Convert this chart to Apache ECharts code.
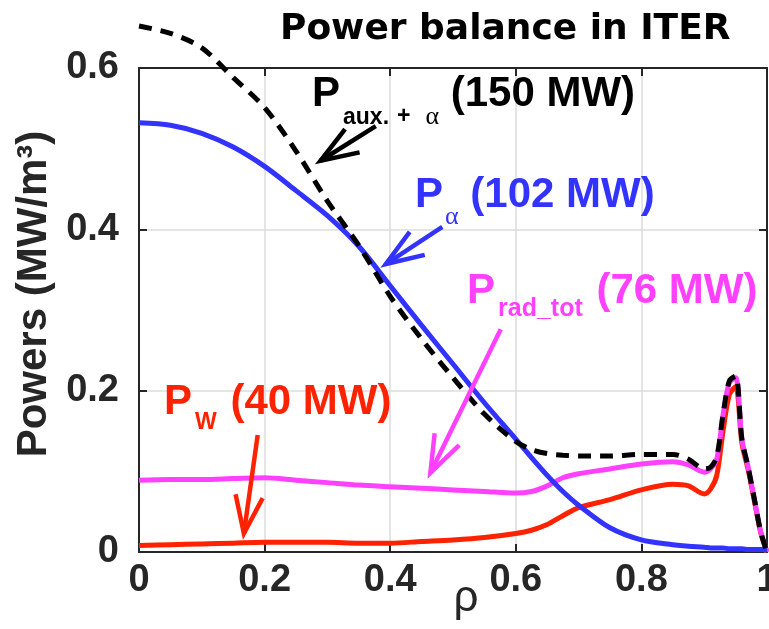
<!DOCTYPE html>
<html>
<head>
<meta charset="utf-8">
<script src="https://cdn.jsdelivr.net/npm/echarts@6/dist/echarts.min.js"></script>
<style>
html, body { margin: 0; padding: 0; background: #fff; }
#main { width: 769px; height: 629px; }
</style>
</head>
<body>
<div id="main"></div>
<script>
// radial coordinate shared by all profiles
const rho = [0, 0.05, 0.1, 0.15, 0.2, 0.25, 0.3, 0.35, 0.4, 0.45, 0.5, 0.55, 0.6, 0.625, 0.65, 0.675, 0.7,
    0.75, 0.8, 0.85, 0.875, 0.9, 0.91, 0.92, 0.93, 0.94, 0.95, 0.96, 0.97, 0.98, 0.99, 1.0];

// power densities (MW/m3)
const pAuxAlpha = [0.652, 0.643, 0.625, 0.588, 0.551, 0.497, 0.435, 0.380, 0.317, 0.264, 0.216, 0.171, 0.137,
    0.127, 0.122, 0.120, 0.119, 0.119, 0.121, 0.121, 0.115, 0.103, 0.105, 0.118, 0.170, 0.212, 0.218,
    0.140, 0.105, 0.065, 0.025, 0.0];
const pAlpha = [0.532, 0.529, 0.519, 0.502, 0.478, 0.448, 0.417, 0.379, 0.330, 0.281, 0.233, 0.185, 0.140,
    0.117, 0.095, 0.075, 0.058, 0.030, 0.015, 0.009, 0.007, 0.006, 0.005, 0.005, 0.005, 0.004, 0.004,
    0.004, 0.003, 0.003, 0.003, 0.003];
const pRadTot = [0.089, 0.090, 0.090, 0.091, 0.092, 0.089, 0.086, 0.083, 0.081, 0.079, 0.077, 0.075, 0.073,
    0.075, 0.082, 0.092, 0.097, 0.103, 0.109, 0.112, 0.108, 0.099, 0.103, 0.115, 0.170, 0.210, 0.216,
    0.140, 0.105, 0.065, 0.025, 0.0];
const pW = [0.008, 0.009, 0.010, 0.011, 0.012, 0.012, 0.012, 0.011, 0.011, 0.013, 0.015, 0.018, 0.023,
    0.027, 0.034, 0.045, 0.055, 0.065, 0.077, 0.084, 0.082, 0.072, 0.078, 0.095, 0.150, 0.195, 0.205,
    0.135, 0.102, 0.063, 0.024, 0.0];

// ticks
const xTicks = [0, 0.2, 0.4, 0.6, 0.8, 1];
const yTicks = [0, 0.2, 0.4, 0.6];

// annotation arrows [rho, P] : start -> tip
const arrowAux = [[0.377, 0.528], [0.289, 0.485]];
const arrowAlpha = [[0.483, 0.403], [0.393, 0.357]];
const arrowRad = [[0.576, 0.276], [0.464, 0.098]];
const arrowW = [[0.189, 0.145], [0.167, 0.023]];

const C_BLUE = '#3333ff';
const C_MAG = '#ff40ff';
const C_RED = '#ff2200';
const C_AX = '#262626';
const FONT = '"Liberation Sans", Arial, Helvetica, sans-serif';

const zip = function (xs, ys) {
    return xs.map((x, i) => [x, ys[i]]);
};

const lineSerie = function (name, ys, color, extra) {
    return Object.assign({
        name: name,
        type: 'line',
        data: zip(rho, ys),
        showSymbol: false,
        smooth: 0.3,
        lineStyle: { color: color, width: 5 },
        itemStyle: { color: color },
        silent: true
    }, extra || {});
};

const axisBase = {
    type: 'value',
    axisLine: { show: true, onZero: false, lineStyle: { color: C_AX, width: 2 } },
    axisTick: { show: true, inside: true, length: 8, lineStyle: { color: C_AX, width: 2 } }
};

const fmt = function (ticks) {
    return function (v) {
        const r = Math.round(v * 10) / 10;
        return ticks.indexOf(r) >= 0 ? String(r) : '';
    };
};

const sub = function (pad, size) {
    return { fontSize: size || 23, fontWeight: 'bold', fontFamily: FONT, lineHeight: 24, verticalAlign: 'top', padding: [pad, 2, 0, 3] };
};
const big = { fontSize: 42, fontWeight: 'bold', fontFamily: FONT, lineHeight: 42, verticalAlign: 'top' };
const greek = function (pad, left, right) {
    return { fontSize: 26, fontFamily: '"Liberation Serif", "DejaVu Serif", serif', lineHeight: 26, verticalAlign: 'top', padding: [pad, right || 0, 0, left || 2] };
};

const chart = echarts.init(document.getElementById('main'));

chart.setOption({
    animation: false,
    textStyle: { fontFamily: FONT },
    grid: { left: 139, right: 2, top: 68, bottom: 77, containLabel: false, outerBoundsMode: 'none' },

    xAxis: [
        Object.assign({}, axisBase, {
            position: 'bottom',
            min: 0, max: 1, interval: 0.2,
            splitLine: { show: true, lineStyle: { color: '#dddddd', width: 1.5 } },
            axisLabel: { fontSize: 38, fontWeight: 'bold', color: C_AX, margin: 10, formatter: fmt(xTicks) }
        }),
        Object.assign({}, axisBase, {
            position: 'top',
            min: 0, max: 1, interval: 0.2,
            splitLine: { show: false },
            axisLabel: { show: false }
        })
    ],

    yAxis: [
        Object.assign({}, axisBase, {
            position: 'left',
            min: 0, max: 0.6, interval: 0.2,
            splitLine: { show: true, lineStyle: { color: '#dddddd', width: 1.5 } },
            axisLabel: { fontSize: 38, fontWeight: 'bold', color: C_AX, margin: 20, formatter: fmt(yTicks) }
        }),
        Object.assign({}, axisBase, {
            position: 'right',
            min: 0, max: 0.6, interval: 0.2,
            splitLine: { show: false },
            axisLabel: { show: false }
        })
    ],

    series: [
        lineSerie('P_W', pW, C_RED, { z: 2 }),
        lineSerie('P_rad_tot', pRadTot, C_MAG, { z: 3 }),
        lineSerie('P_alpha', pAlpha, C_BLUE, { z: 4 }),
        lineSerie('P_aux+alpha', pAuxAlpha, '#000000', {
            z: 5,
            clip: false,
            lineStyle: { color: '#000000', width: 5, type: [13, 9] }
        })
    ]
});

// texts
const texts = [
    {
        type: 'text', x: 280, y: 12, silent: true,
        style: { text: 'Power balance in ITER', font: 'bold 36px "DejaVu Sans"', fill: '#000', align: 'left', verticalAlign: 'top' }
    },
    {
        type: 'text', x: 34, y: 294, rotation: Math.PI / 2, silent: true,
        style: { text: 'Powers (MW/m³)', font: 'bold 42px ' + FONT, fill: C_AX, align: 'center', verticalAlign: 'middle' }
    },
    {
        type: 'text', x: 466, y: 599, silent: true,
        style: { text: 'ρ', font: '44px ' + FONT, fill: C_AX, align: 'center', verticalAlign: 'middle' }
    },
    {
        type: 'text', x: 312, y: 73, silent: true,
        style: {
            text: '{m|P}{s|aux.}{p|+}{g|α}{m| (150 MW)}', fill: '#000', align: 'left', verticalAlign: 'top',
            rich: {
                m: big, s: sub(33),
                p: { fontSize: 23, fontWeight: 'bold', fontFamily: FONT, lineHeight: 24, verticalAlign: 'top', padding: [32, 13, 0, 6] },
                g: greek(31, 0, 0)
            }
        }
    },
    {
        type: 'text', x: 415, y: 174, silent: true,
        style: {
            text: '{m|P}{g|α}{m| (102 MW)}', fill: C_BLUE, align: 'left', verticalAlign: 'top',
            rich: { m: big, g: greek(30) }
        }
    },
    {
        type: 'text', x: 467, y: 270, silent: true,
        style: {
            text: '{m|P}{s|rad_tot}{m| (76 MW)}', fill: C_MAG, align: 'left', verticalAlign: 'top',
            rich: { m: big, s: sub(27, 25) }
        }
    },
    {
        type: 'text', x: 164, y: 381, silent: true,
        style: {
            text: '{m|P}{s|W}{m| (40 MW)}', fill: C_RED, align: 'left', verticalAlign: 'top',
            rich: { m: big, s: sub(30) }
        }
    }
];

// arrows, placed through the axes
const arrowEls = function () {
    const defs = [[arrowAux, '#000000'], [arrowAlpha, C_BLUE], [arrowRad, C_MAG], [arrowW, C_RED]];
    const els = [];
    const ang = 20 * Math.PI / 180;
    const len = 40;
    defs.forEach(function (d) {
        const a = chart.convertToPixel({ xAxisIndex: 0, yAxisIndex: 0 }, d[0][0]);
        const b = chart.convertToPixel({ xAxisIndex: 0, yAxisIndex: 0 }, d[0][1]);
        const dx = a[0] - b[0], dy = a[1] - b[1];
        const n = Math.sqrt(dx * dx + dy * dy);
        const ux = dx / n, uy = dy / n;
        const barb = function (s) {
            const c = Math.cos(s * ang), sn = Math.sin(s * ang);
            return [b[0] + len * (ux * c - uy * sn), b[1] + len * (ux * sn + uy * c)];
        };
        els.push({
            type: 'polyline', silent: true, z: 10,
            shape: { points: [a, b] },
            style: { stroke: d[1], lineWidth: 4.5, fill: null }
        });
        els.push({
            type: 'polyline', silent: true, z: 10,
            shape: { points: [barb(1), b, barb(-1)] },
            style: { stroke: d[1], lineWidth: 4.5, fill: null, lineJoin: 'miter' }
        });
    });
    return els;
};

chart.setOption({ graphic: texts.concat(arrowEls()) });
</script>
</body>
</html>
